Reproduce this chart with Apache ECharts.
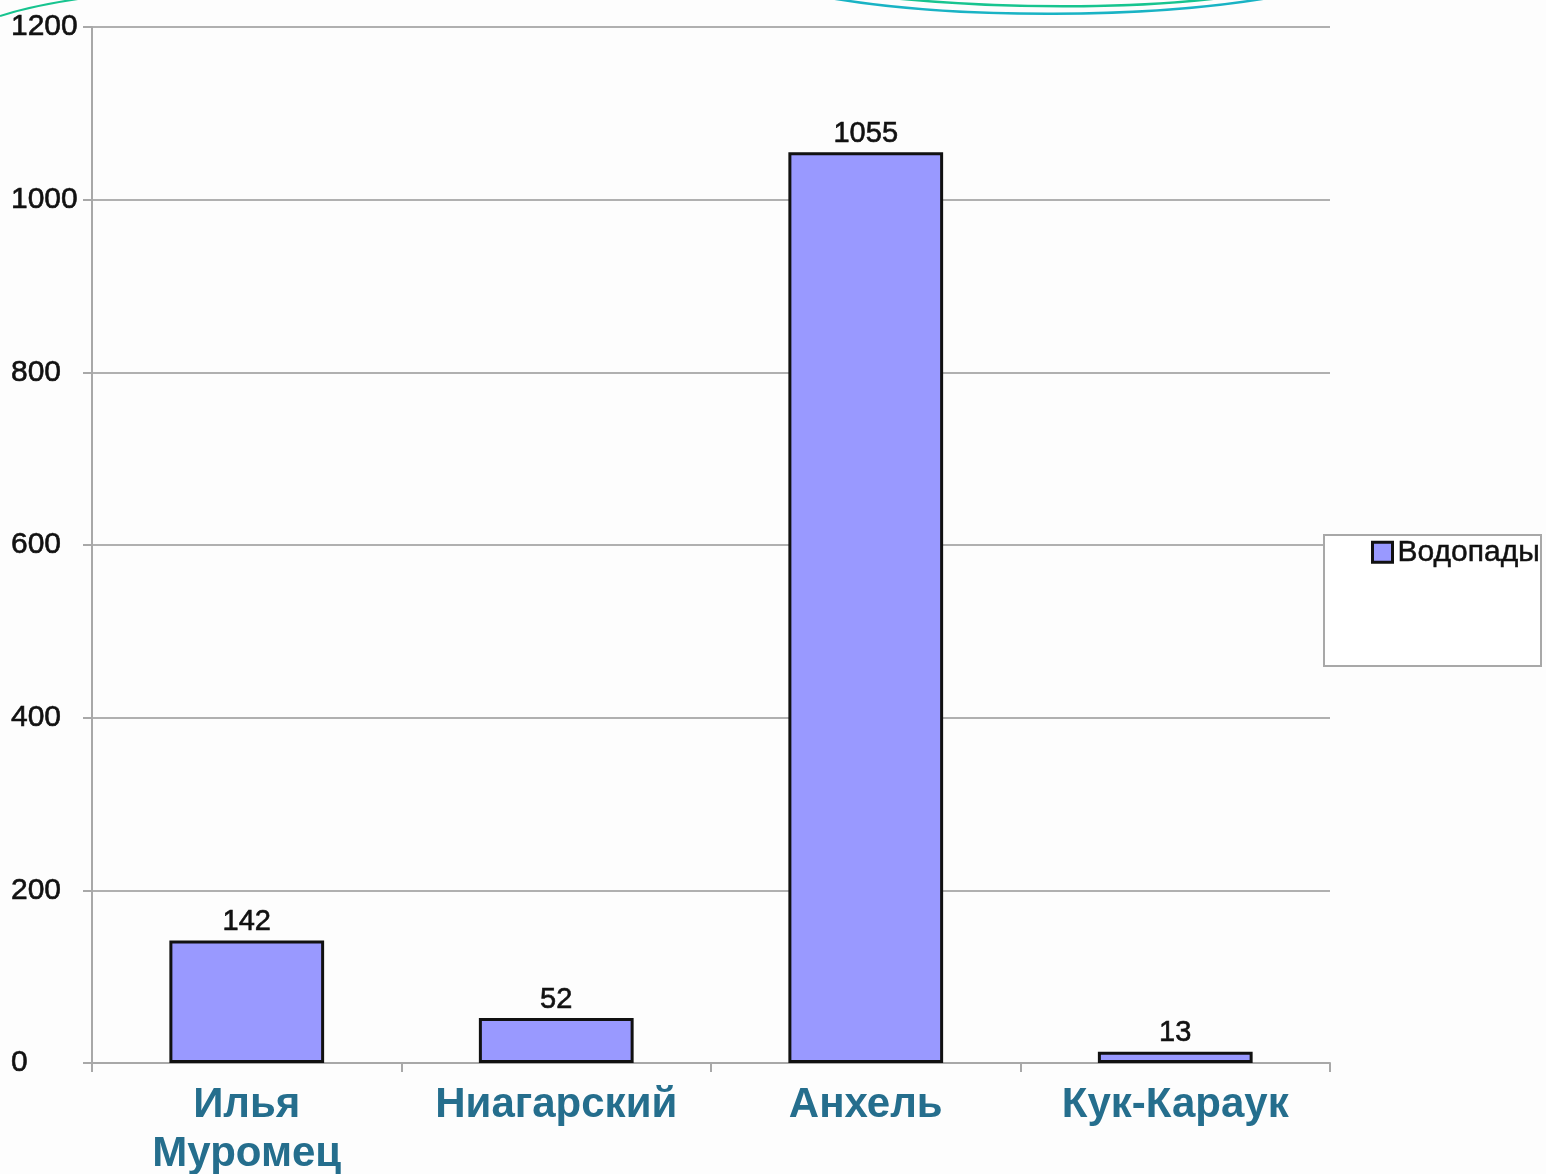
<!DOCTYPE html>
<html>
<head>
<meta charset="utf-8">
<script src="https://cdn.jsdelivr.net/npm/echarts@6/dist/echarts.min.js"></script>
<style>html,body{margin:0;padding:0;background:#fdfdfd;}#c{width:1546px;height:1174px;}</style>
</head>
<body>
<div id="c"></div>
<script>
const categories = ['Илья\nМуромец', 'Ниагарский', 'Анхель', 'Кук-Караук'];
const values = [142, 52, 1055, 13];
const seriesName = 'Водопады';
const yMin = 0, yMax = 1200, yStep = 200;

const chart = echarts.init(document.getElementById('c'));
chart.setOption({
  backgroundColor: '#fdfdfd',
  animation: false,
  grid: { left: 92, right: 216, top: 27, bottom: 111, containLabel: false, outerBoundsMode: 'none' },
  graphic: [
    { type: 'rect', shape: { x: 1324, y: 535, width: 217, height: 131 }, style: { fill: '#ffffff', stroke: '#a8a8a8', lineWidth: 2 }, z: 1 },
    { type: 'bezierCurve', shape: { x1: 830, y1: -2, cpx1: 960, cpy1: 20, cpx2: 1150, cpy2: 18, x2: 1268, y2: -2 }, style: { stroke: '#19b3c4', lineWidth: 2.5, fill: null }, z: 10 },
    { type: 'bezierCurve', shape: { x1: 892, y1: -2, cpx1: 1000, cpy1: 9, cpx2: 1130, cpy2: 9, x2: 1220, y2: -2 }, style: { stroke: '#17c48f', lineWidth: 2.5, fill: null }, z: 10 },
    { type: 'bezierCurve', shape: { x1: 0, y1: 16, cpx1: 25, cpy1: 8, cpx2: 50, cpy2: 3, x2: 78, y2: -1 }, style: { stroke: '#17c48f', lineWidth: 2, fill: null }, z: 10 }
  ],
  legend: {
    data: [seriesName],
    left: 1371, top: 537,
    itemWidth: 20, itemHeight: 20, itemGap: 0,
    padding: 0,
    textStyle: { fontFamily: 'Liberation Sans', fontSize: 30, color: '#111', textBorderColor: '#111', textBorderWidth: 0.5 },
    icon: 'rect',
    itemStyle: { borderColor: '#111', borderWidth: 3 },
    z: 5
  },
  xAxis: {
    type: 'category',
    data: categories,
    axisLine: { lineStyle: { color: '#a8a8a8', width: 2 } },
    axisTick: { show: true, length: 9, alignWithLabel: false, lineStyle: { color: '#a8a8a8', width: 2 } },
    axisLabel: {
      margin: 18,
      fontFamily: 'Liberation Sans',
      fontWeight: 'bold',
      fontSize: 42,
      lineHeight: 49,
      color: '#256e8d',
      interval: 0
    }
  },
  yAxis: {
    type: 'value',
    min: yMin, max: yMax, interval: yStep,
    axisLine: { show: true, lineStyle: { color: '#a8a8a8', width: 2 } },
    axisTick: { show: true, length: 9, lineStyle: { color: '#a8a8a8', width: 2 } },
    splitLine: { lineStyle: { color: '#b0b0b0', width: 2 } },
    axisLabel: {
      margin: 81,
      align: 'left',
      fontFamily: 'Liberation Sans',
      fontSize: 30,
      color: '#111',
      textBorderColor: '#111',
      textBorderWidth: 0.6,
      formatter: function (v) { return String(v); }
    }
  },
  series: [{
    name: seriesName,
    type: 'bar',
    data: values,
    barWidth: '50%',
    itemStyle: { color: '#9999ff', borderColor: '#111', borderWidth: 3 },
    label: {
      show: true, position: 'top', distance: 4,
      fontFamily: 'Liberation Sans', fontSize: 29, color: '#111',
      textBorderColor: '#111', textBorderWidth: 0.6
    }
  }]
});
</script>
</body>
</html>
